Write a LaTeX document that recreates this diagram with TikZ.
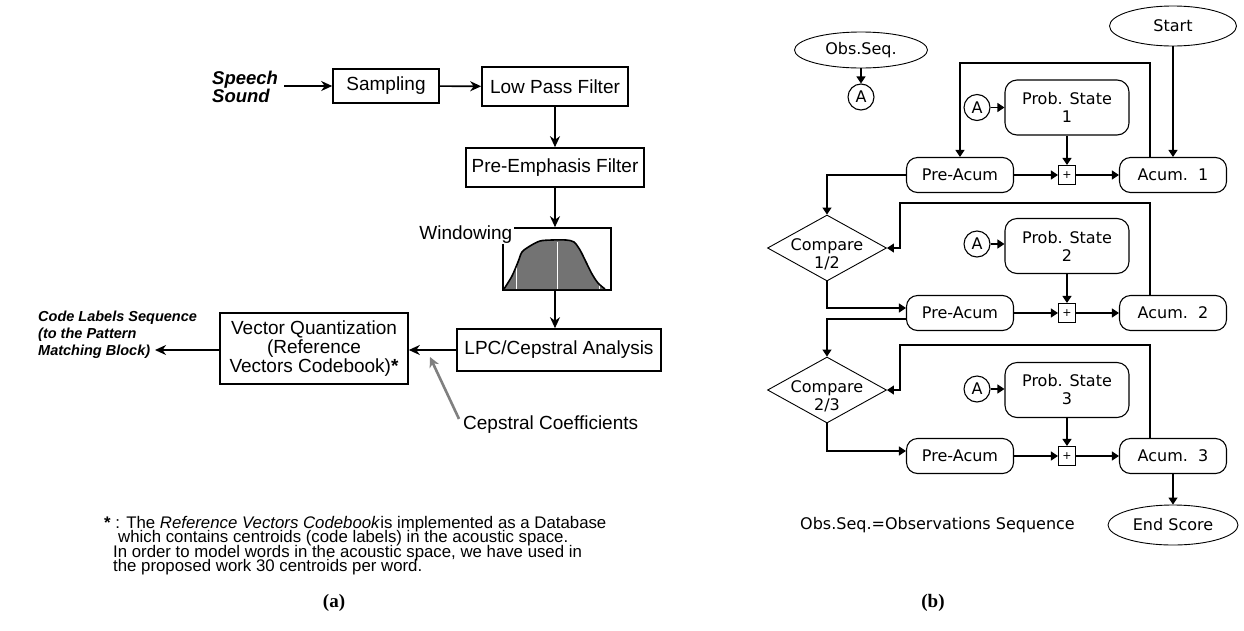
\documentclass[tikz,border=0pt]{standalone}
\usepackage{fontspec}
\setmainfont{Liberation Sans}
\newfontfamily\capfont{Liberation Serif}
\newfontfamily\chartfont{DejaVu Sans}
\usetikzlibrary{arrows.meta,shapes.geometric,calc}

\newcommand{\tightlines}{\lineskiplimit=-20pt\relax}

\tikzset{
  blk/.style={draw, line width=1.6pt, inner sep=0pt, font=\fontsize{19}{19}\selectfont\tightlines},
  garr/.style={line width=1.6pt, -{Stealth[length=11pt,width=10pt,inset=3.5pt]}},
  hatcharr/.style={draw=black!50, line width=2.6pt, -{Stealth[length=10pt,width=10pt,inset=3pt]}},
  ch/.style={font=\chartfont\fontsize{16}{18}\selectfont},
  rbox/.style={draw, line width=1.1pt, rounded corners=11pt, inner sep=0pt, ch, minimum width=107pt, minimum height=35pt},
  pbox/.style={draw, line width=1.1pt, rounded corners=12pt, inner sep=0pt, ch, align=center, minimum width=124pt, minimum height=55pt},
  conn/.style={draw, circle, line width=1.1pt, inner sep=0pt, minimum size=26pt, ch},
  addbox/.style={draw, line width=1.1pt, inner sep=0pt, minimum width=17pt, minimum height=19pt, font=\chartfont\fontsize{11}{11}\selectfont},
  cmp/.style={draw, diamond, line width=0.9pt, inner sep=0pt, minimum width=119pt, minimum height=66pt},
  term/.style={draw, ellipse, line width=0.9pt, inner sep=0pt, ch},
  farr/.style={line width=1.1pt, -{Triangle[length=7pt,width=9pt]}},
}

\begin{document}
\begin{tikzpicture}[x=1pt,y=-1pt]
\useasboundingbox[fill=white] (0,0) rectangle (1244,630);

% ---------------- (a) front end ----------------
\node[anchor=west, inner sep=0pt, align=left, font=\bfseries\itshape\fontsize{18.5}{17.5}\selectfont\tightlines] (speech) at (212,87) {Speech\\Sound};
\node[blk, minimum width=106pt, minimum height=34pt] (samp) at (386,86) {Sampling};
\node[blk, minimum width=146pt, minimum height=39pt] (lpf) at (555,86.5) {Low Pass Filter};
\node[blk, minimum width=178pt, minimum height=39pt] (pre) at (555,167.5) {Pre-Emphasis Filter};

% window frame with the window shape inside
\node[draw, line width=1.6pt, minimum width=108pt, minimum height=62pt, inner sep=0pt] (win) at (557,259) {};
\fill[black!55] plot[smooth] coordinates {(504,289) (512,276) (518,262) (522,252) (530,246) (540,241) (552,240) (566,240) (574,242) (580,250) (586,262) (592,274) (598,283) (605,289)} -- cycle;
\draw[white, line width=1pt] (516,289) -- (516,264) (557,289) -- (557,242) (599,289) -- (599,285);
\draw[line width=1.6pt] plot[smooth] coordinates {(504,289) (512,276) (518,262) (522,252) (530,246) (540,241) (552,240) (566,240) (574,242) (580,250) (586,262) (592,274) (598,283) (605,289)};
\node[anchor=base east, fill=white, inner sep=1.5pt, font=\fontsize{19}{19}\selectfont] (winlbl) at (514,239) {Windowing};

\node[blk, minimum width=204pt, minimum height=42pt] (lpc) at (559,350) {LPC/Cepstral Analysis};
\node[blk, minimum width=188pt, minimum height=71pt, align=center] (vq) at (314,348.5) {Vector Quantization\\(Reference\\Vectors Codebook)\textbf{*}};
\node[anchor=west, inner sep=0pt, align=left, font=\bfseries\itshape\fontsize{14.5}{17}\selectfont\tightlines] (codes) at (38,335) {Code Labels Sequence\\(to the Pattern\\Matching Block)};
\coordinate (codetip) at (155,350);
\node[anchor=west, inner sep=0pt, font=\fontsize{19}{19}\selectfont] (ceps) at (463,425) {Cepstral Coefficients};
\coordinate (cepstip) at (430,357);

\draw[garr] ($(speech.east)+(6,-1)$) -- (samp.west);
\draw[garr] (samp) -- (lpf);
\draw[garr] (lpf) -- (pre);
\draw[garr] (pre.south) -- (pre.south |- win.north);
\draw[garr] (win.south -| pre.south) -- (pre.south |- lpc.north);
\draw[garr] (lpc.west) -- (lpc.west -| vq.east);
\draw[garr] (vq.west |- codetip) -- (codetip);
\draw[hatcharr] ([shift={(-4,3)}]ceps.north west) -- (cepstip);

\node[anchor=north west, inner sep=0pt, align=left, font=\fontsize{16.8}{14.5}\selectfont\tightlines] (note) at (104,516)
  {\textbf{*} : The \textit{Reference Vectors Codebook}is implemented as a Database\\
   \hspace*{14pt}which contains centroids (code labels) in the acoustic space.\\
   \hspace*{9pt}In order to model words in the acoustic space, we have used in\\
   \hspace*{9pt}the proposed work 30 centroids per word.};

% ---------------- (b) recognition flow ----------------
\node[term, minimum width=133pt, minimum height=36pt] (obs) at (861,50) {Obs.Seq.};
\node[conn] (a0) at (861,97) {A};
\draw[farr] (obs) -- (a0);
\node[term, minimum width=127pt, minimum height=40pt] (start) at (1173,26) {Start};

% state 1
\node[pbox] (p1) at (1067,107.5) {Prob. State\\1};
\node[conn] (a1) at (977,107.5) {A};
\node[rbox] (pre1) at (960,175) {Pre-Acum};
\node[addbox] (s1) at (1067,175) {+};
\node[rbox] (acc1) at (1173,175) {Acum.\ \ 1};
\coordinate (loop1) at (960,63);
\draw[farr] (a1) -- (p1);
\draw[farr] (p1) -- (s1);
\draw[farr] (pre1) -- (s1);
\draw[farr] (s1) -- (acc1);
\draw[farr] (start) -- (acc1);
\draw[farr] ([xshift=-23pt]acc1.north) |- (loop1) -- (pre1.north);

% state 2
\node[cmp] (c1) at (827,248) {};
\node[ch, align=center, inner sep=0pt] (c1t) at (827,254) {Compare\\1/2};
\node[pbox] (p2) at (1067,246) {Prob. State\\2};
\node[conn] (a2) at (977,244) {A};
\node[rbox] (pre2) at (960,313) {Pre-Acum};
\node[addbox] (s2) at (1067,313) {+};
\node[rbox] (acc2) at (1173,313) {Acum.\ \ 2};
\coordinate (loop2) at (900,203);
\draw[farr] (pre1.west) -| (c1.north);
\draw[farr] (a2) -- (a2 -| p2.west);
\draw[farr] (p2) -- (s2);
\draw[farr] (c1.south) |- ([yshift=5pt]pre2.west);
\draw[farr] (pre2) -- (s2);
\draw[farr] (s2) -- (acc2);
\draw[farr] ([xshift=-23pt]acc2.north) |- (loop2) |- (c1.east);

% state 3
\node[cmp] (c2) at (827,390) {};
\node[ch, align=center, inner sep=0pt] (c2t) at (827,396) {Compare\\2/3};
\node[pbox] (p3) at (1067,390) {Prob. State\\3};
\node[conn] (a3) at (977,389) {A};
\node[rbox] (pre3) at (960,456) {Pre-Acum};
\node[addbox] (s3) at (1067,456) {+};
\node[rbox] (acc3) at (1173,456) {Acum.\ \ 3};
\coordinate (loop3) at (900,345);
\draw[farr] ([yshift=-6pt]pre2.west) -| (c2.north);
\draw[farr] (a3) -- (a3 -| p3.west);
\draw[farr] (p3) -- (s3);
\draw[farr] (c2.south) |- ([yshift=5pt]pre3.west);
\draw[farr] (pre3) -- (s3);
\draw[farr] (s3) -- (acc3);
\draw[farr] ([xshift=-23pt]acc3.north) |- (loop3) |- (c2.east);

\node[term, minimum width=130pt, minimum height=40pt] (fin) at (1173,525) {End Score};
\draw[farr] (acc3) -- (fin);
\node[ch, anchor=west, inner sep=0pt] (legend) at (800,525) {Obs.Seq.=Observations Sequence};

% captions
\node[font=\capfont\bfseries\fontsize{19}{19}\selectfont] (capa) at (334,603) {(a)};
\node[font=\capfont\bfseries\fontsize{19}{19}\selectfont] (capb) at (933,603) {(b)};
\end{tikzpicture}
\end{document}
